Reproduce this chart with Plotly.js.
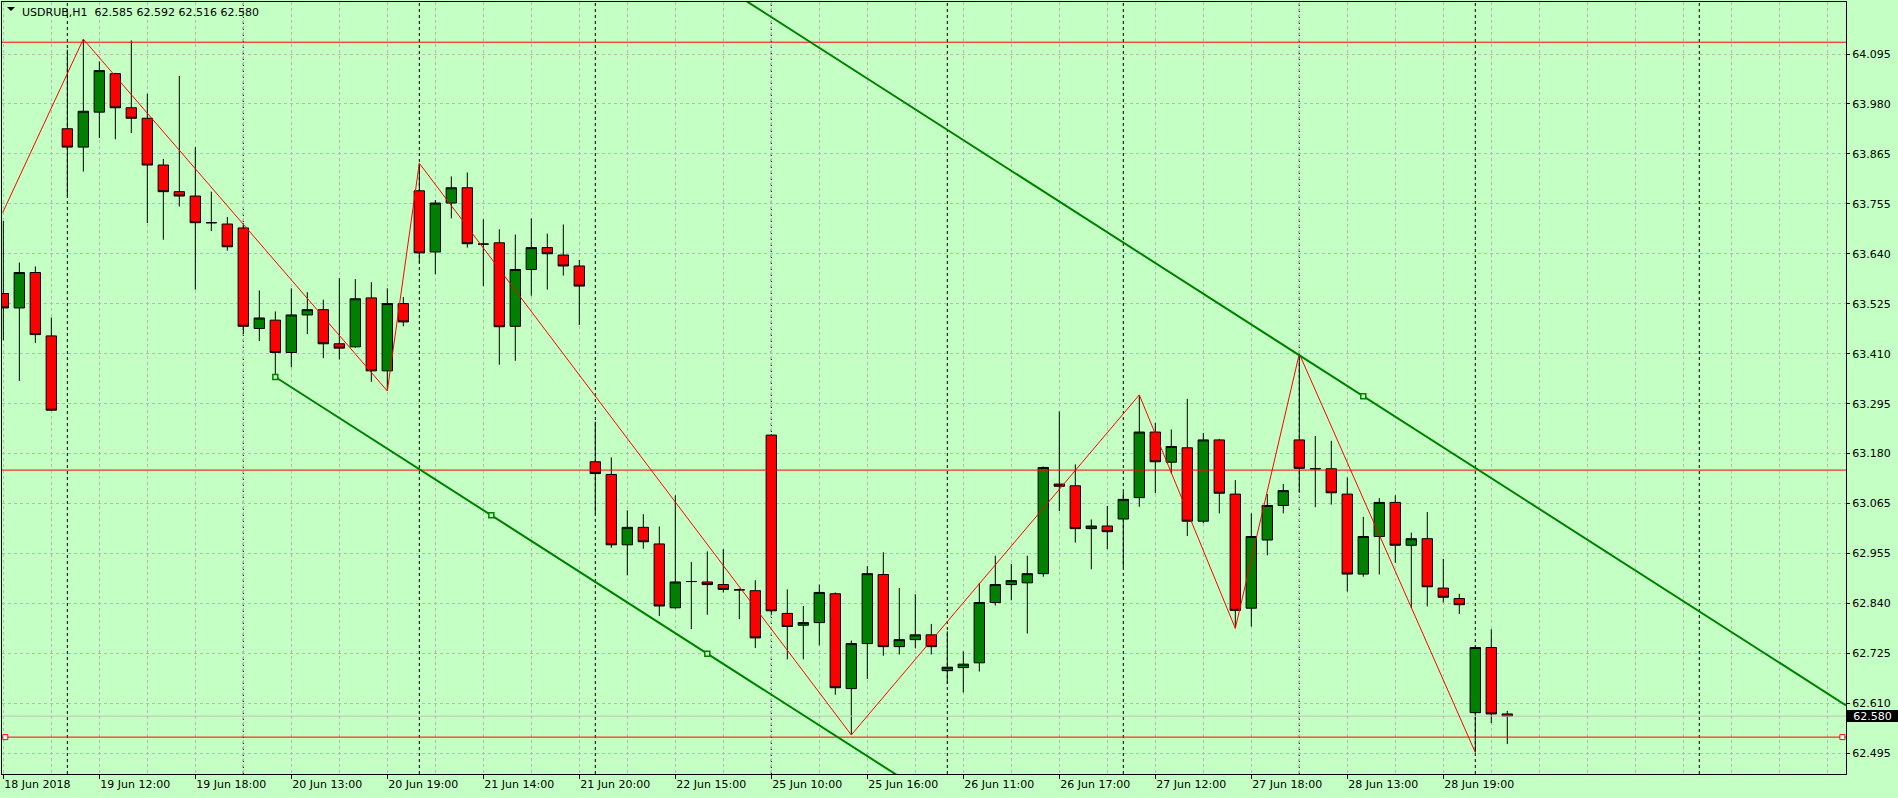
<!DOCTYPE html>
<html>
<head>
<meta charset="utf-8">
<script src="https://cdn.plot.ly/plotly-3.0.1.min.js"></script>
<style>
html,body{margin:0;padding:0;background:#c4ffc4;overflow:hidden;}
#chart{width:1898px;height:798px;}
</style>
</head>
<body>
<div id="chart"></div>
<script>
// ---------------- DATA ----------------
const symbol = 'USDRUB';
const timeframe = 'H1';

const openP = [63.547,63.514,63.595,63.450,63.924,63.882,63.962,64.050,63.972,63.948,
  63.841,63.780,63.770,63.709,63.706,63.697,63.467,63.486,63.412,63.498,
  63.510,63.432,63.425,63.537,63.370,63.524,63.782,63.642,63.754,63.789,
  63.660,63.663,63.472,63.602,63.652,63.635,63.610,63.162,63.133,62.972,
  63.012,62.974,62.828,62.888,62.887,62.881,62.869,62.867,63.223,62.815,
  62.788,62.794,62.860,62.643,62.746,62.904,62.739,62.755,62.766,62.684,
  62.691,62.702,62.840,62.881,62.885,62.906,63.111,63.107,63.009,63.015,
  63.031,63.080,63.230,63.161,63.194,63.026,63.212,63.088,62.827,62.983,
  63.062,63.212,63.146,63.146,63.088,62.905,62.991,63.069,62.971,62.986,
  62.873,62.849,62.588,62.737,62.585];
const highP = [63.713,63.618,63.609,63.492,64.105,64.129,64.078,64.052,64.126,64.004,
  63.855,64.045,63.882,63.780,63.722,63.708,63.554,63.506,63.559,63.550,
  63.533,63.582,63.580,63.573,63.559,63.539,63.845,63.761,63.815,63.824,
  63.717,63.694,63.682,63.719,63.684,63.705,63.624,63.254,63.172,63.051,
  63.042,63.014,63.085,62.933,62.957,62.962,62.872,62.891,63.225,62.870,
  62.832,62.881,62.863,62.753,62.923,62.955,62.873,62.859,62.791,62.774,
  62.728,62.885,62.947,62.928,62.947,63.151,63.277,63.156,63.030,63.061,
  63.093,63.315,63.251,63.236,63.306,63.228,63.214,63.120,63.044,63.088,
  63.111,63.409,63.221,63.210,63.126,63.036,63.079,63.085,63.000,63.047,
  62.940,62.860,62.739,62.779,62.592];
const lowP = [63.440,63.347,63.434,63.278,63.770,63.826,63.903,63.900,63.914,63.708,
  63.670,63.746,63.556,63.690,63.645,63.454,63.438,63.356,63.378,63.454,
  63.399,63.396,63.423,63.345,63.324,63.472,63.618,63.591,63.719,63.652,
  63.564,63.384,63.393,63.542,63.556,63.588,63.475,63.042,62.965,62.902,
  62.963,62.809,62.826,62.779,62.812,62.863,62.802,62.736,62.812,62.710,
  62.710,62.742,62.629,62.537,62.665,62.718,62.721,62.735,62.721,62.654,
  62.634,62.682,62.833,62.845,62.769,62.899,63.049,62.977,62.916,62.962,
  62.921,63.059,63.090,63.135,62.992,63.021,63.044,62.781,62.785,62.948,
  63.044,63.091,63.058,63.064,62.865,62.899,62.904,62.931,62.827,62.831,
  62.840,62.814,62.497,62.564,62.516];
const closeP = [63.514,63.595,63.453,63.280,63.882,63.964,64.057,63.972,63.948,63.841,
  63.780,63.770,63.709,63.709,63.654,63.472,63.491,63.412,63.498,63.510,
  63.432,63.422,63.535,63.370,63.524,63.482,63.640,63.754,63.789,63.661,
  63.660,63.471,63.602,63.652,63.638,63.610,63.564,63.135,62.972,63.012,
  62.979,62.832,62.887,62.888,62.881,62.870,62.869,62.759,62.821,62.785,
  62.794,62.863,62.645,62.746,62.906,62.739,62.755,62.766,62.739,62.692,
  62.699,62.840,62.881,62.890,62.906,63.149,63.106,63.009,63.015,63.002,
  63.076,63.230,63.162,63.197,63.026,63.212,63.090,62.822,62.991,63.062,
  63.096,63.147,63.146,63.091,62.905,62.991,63.069,62.971,62.986,62.876,
  62.852,62.835,62.737,62.585,62.580];

// time-axis labels (bar index -> label)
const xLabelBars = [0,6,12,18,24,30,36,42,48,54,60,66,72,78,84,90];
const xLabels = ['18 Jun 2018','19 Jun 12:00','19 Jun 18:00','20 Jun 13:00','20 Jun 19:00',
  '21 Jun 14:00','21 Jun 20:00','22 Jun 15:00','25 Jun 10:00','25 Jun 16:00',
  '26 Jun 11:00','26 Jun 17:00','27 Jun 12:00','27 Jun 18:00','28 Jun 13:00','28 Jun 19:00'];
// day separators (first bar of each session)
const daySeparatorBars = [4,15,26,37,48,59,70,81,92,106];

// price-axis labels
const yLabels = ['64.095','63.980','63.865','63.755','63.640','63.525','63.410','63.295',
  '63.180','63.065','62.955','62.840','62.725','62.610','62.495'];

// ZigZag vertices (bar, price)
const zigzagBars   = [-0.04, 5, 24, 26, 53, 71, 77, 81, 92];
const zigzagPrices = [63.732, 64.129, 63.324, 63.845, 62.537, 63.315, 62.781, 63.409, 62.497];

// Equidistant channel anchors (bar, price)
const channelBars   = [17, 44, 85];
const channelPrices = [63.356, 62.723, 63.312];

// Horizontal lines (price)
const hLinePrices = [64.122, 63.143, 62.532];

// ---------------- LAYOUT HELPERS ----------------
const W = 1898, H = 798;
const M = {l:2, r:52, t:2, b:24};
const X_MIN = -0.083, X_MAX = 115.17;
const Y_MIN = 62.4476, Y_MAX = 64.214;
const plotW = W - M.l - M.r, plotH = H - M.t - M.b;
const pxX = px => (px - M.l) / plotW;
const pxY = py => (H - M.b - py) / plotH;
const pxToBar = dpx => dpx * (X_MAX - X_MIN) / plotW;

const GRID = '#b8b8b8';
const BG = '#c4ffc4';
const GREEN = '#008000';
const RED = '#ff0000';

const bars = openP.map((_, i) => i);
const yTickVals = yLabels.map(s => parseFloat(s));
// evenly spaced grid from first to last label
const yStep = (yTickVals[0] - yTickVals[yTickVals.length-1]) / (yTickVals.length - 1);
const yGrid = yLabels.map((_, k) => yTickVals[0] - k * yStep);

const last = openP.length - 1;

const traces = [];

// current price line
traces.push({type:'scatter', mode:'lines', x:[X_MIN, X_MAX], y:[closeP[last], closeP[last]],
  line:{color:'#c0c0c0', width:1}, hoverinfo:'skip'});

// candles
traces.push({
  type:'candlestick', x:bars, open:openP, high:highP, low:lowP, close:closeP,
  increasing:{line:{color:'#000000', width:1}, fillcolor:GREEN},
  decreasing:{line:{color:'#000000', width:1}, fillcolor:RED},
  whiskerwidth:0, hoverinfo:'skip'
});

// horizontal lines
hLinePrices.forEach(p => {
  traces.push({type:'scatter', mode:'lines', x:[X_MIN, X_MAX], y:[p, p],
    line:{color:RED, width:1}, hoverinfo:'skip'});
});
// end markers of the lowest horizontal line
const lowLine = hLinePrices[hLinePrices.length-1];
traces.push({type:'scatter', mode:'markers',
  x:[X_MIN + pxToBar(3.3), X_MAX - pxToBar(3.6)], y:[lowLine, lowLine],
  marker:{symbol:'square', size:5, color:'#ffffff', line:{color:RED, width:1}},
  cliponaxis:false, hoverinfo:'skip'});

// zigzag
traces.push({type:'scatter', mode:'lines', x:zigzagBars, y:zigzagPrices,
  line:{color:RED, width:1}, hoverinfo:'skip'});

// channel
const slope = (channelPrices[1] - channelPrices[0]) / (channelBars[1] - channelBars[0]);
const lineAt = (b0, p0, b) => p0 + slope * (b - b0);
traces.push({type:'scatter', mode:'lines',
  x:[channelBars[0], X_MAX],
  y:[channelPrices[0], lineAt(channelBars[0], channelPrices[0], X_MAX)],
  line:{color:GREEN, width:2}, hoverinfo:'skip'});
traces.push({type:'scatter', mode:'lines',
  x:[channelBars[0], X_MAX],
  y:[lineAt(channelBars[2], channelPrices[2], channelBars[0]), lineAt(channelBars[2], channelPrices[2], X_MAX)],
  line:{color:GREEN, width:2}, hoverinfo:'skip'});
const midBar = (channelBars[0] + channelBars[1]) / 2;
const midPrice = (channelPrices[0] + channelPrices[1]) / 2;
traces.push({type:'scatter', mode:'markers',
  x:[channelBars[0], midBar, channelBars[1], channelBars[2]],
  y:[channelPrices[0], midPrice, channelPrices[1], channelPrices[2]],
  marker:{symbol:'square', size:5, color:BG, line:{color:GREEN, width:1.5}},
  hoverinfo:'skip'});

// shapes: day separators + title triangle
const shapes = daySeparatorBars.map(b => ({
  type:'line', xref:'x', yref:'paper', x0:b, x1:b, y0:0, y1:1,
  line:{color:'#000000', width:1, dash:'3px,3px'}, layer:'between'
}));
shapes.push({type:'path', xref:'paper', yref:'paper',
  path:`M ${pxX(7)} ${pxY(7)} L ${pxX(15)} ${pxY(7)} L ${pxX(11)} ${pxY(11)} Z`,
  fillcolor:'#000000', line:{color:'#000000', width:0}, layer:'above'});

const titleText = `${symbol},${timeframe}\u00a0\u00a0${openP[last].toFixed(3)} ${highP[last].toFixed(3)} ${lowP[last].toFixed(3)} ${closeP[last].toFixed(3)}`;

const annotations = [
  {xref:'paper', yref:'paper', x:pxX(19.5), y:pxY(12.5), xanchor:'left', yanchor:'middle',
   text:titleText, showarrow:false, font:{family:'DejaVu Sans', size:11, color:'#000'}},
  {xref:'paper', yref:'y', x:1, y:closeP[last], xanchor:'left', yanchor:'middle', xshift:1,
   text:closeP[last].toFixed(3), showarrow:false, bgcolor:'#000000', width:51, height:12,
   align:'center', borderpad:0, borderwidth:0,
   font:{family:'DejaVu Sans', size:11, color:'#ffffff'}}
];

const layout = {
  width:W, height:H,
  margin:{l:M.l, r:M.r, t:M.t, b:M.b, pad:0},
  paper_bgcolor:BG, plot_bgcolor:BG,
  showlegend:false,
  font:{family:'DejaVu Sans', size:11, color:'#000'},
  boxgap:0.35, boxgroupgap:0,
  xaxis:{
    type:'linear', range:[X_MIN, X_MAX], rangeslider:{visible:false},
    tickmode:'array', tickvals:xLabelBars, ticktext:xLabels,
    ticks:'outside', ticklen:4, tickwidth:1, tickcolor:'#000',
    ticklabelposition:'outside right',
    tickfont:{family:'DejaVu Sans', size:11, color:'#000'},
    showgrid:true, gridcolor:GRID, griddash:'3px,3px', gridwidth:1,
    minor:{tickmode:'linear', tick0:0, dtick:3, showgrid:true, gridcolor:GRID, griddash:'3px,3px', gridwidth:1, ticks:''},
    showline:true, linecolor:'#000', linewidth:1, mirror:true, zeroline:false, fixedrange:true
  },
  yaxis:{
    side:'right', range:[Y_MIN, Y_MAX],
    tickmode:'array', tickvals:yGrid, ticktext:yLabels,
    ticks:'outside', ticklen:3, tickwidth:1, tickcolor:'#000',
    tickfont:{family:'DejaVu Sans', size:11, color:'#000'},
    showgrid:true, gridcolor:GRID, griddash:'3px,3px', gridwidth:1,
    showline:true, linecolor:'#000', linewidth:1, mirror:true, zeroline:false, fixedrange:true
  },
  shapes:shapes,
  annotations:annotations
};

Plotly.newPlot('chart', traces, layout, {staticPlot:true, displayModeBar:false});
</script>
</body>
</html>
